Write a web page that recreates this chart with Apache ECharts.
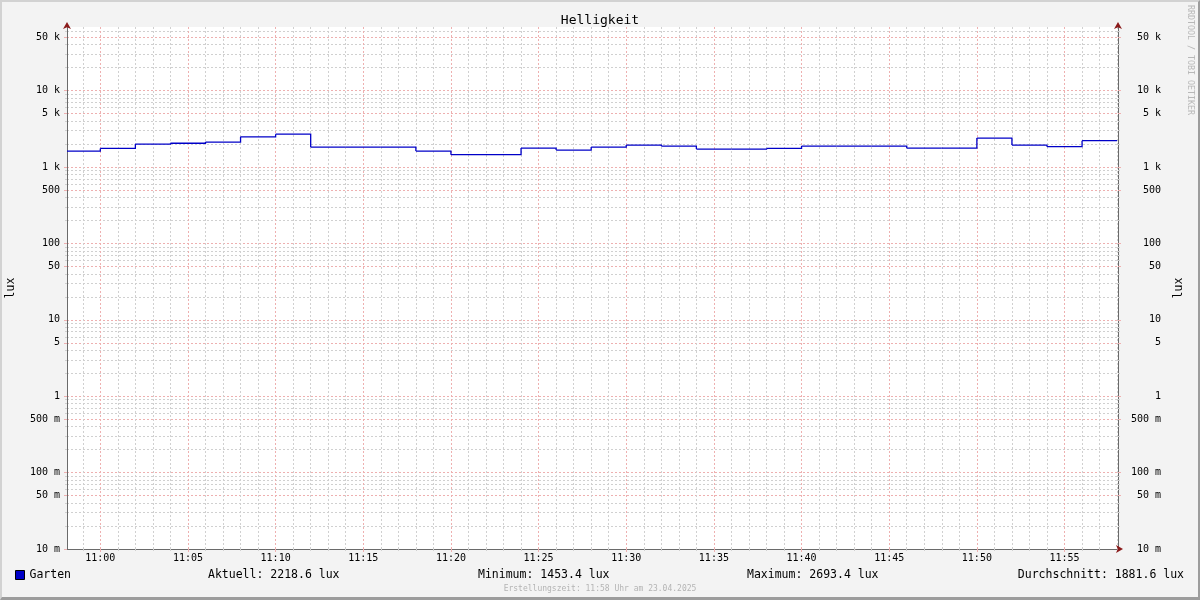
<!DOCTYPE html>
<html><head><meta charset="utf-8">
<script src="https://cdn.jsdelivr.net/npm/echarts@6/dist/echarts.min.js"></script>
<style>
html,body{margin:0;padding:0;background:#f3f3f3}
#wrap{position:relative;width:1200px;height:600px}
#chart{width:1200px;height:600px}
#frame{position:absolute;left:0;top:0;width:1200px;height:600px;box-sizing:border-box;border-top:2px solid #d2d2d2;border-left:2px solid #d2d2d2;border-right:2px solid #9c9c9c;border-bottom:3px solid #9c9c9c;pointer-events:none}
</style></head>
<body><div id="wrap"><div id="chart"></div><div id="frame"></div></div>
<script>
// ---- data ----
const chartTitle = 'Helligkeit';
const seriesName = 'Garten';
const unitName = 'lux';
const sampleTimes = ['10:58','11:00','11:02','11:04','11:06','11:08','11:10','11:12','11:14','11:16',
  '11:18','11:20','11:22','11:24','11:26','11:28','11:30','11:32','11:34','11:36',
  '11:38','11:40','11:42','11:44','11:46','11:48','11:50','11:52','11:54','11:56','11:58'];
const luxValues = [1620,1752,2000,2050,2124,2491,2693.4,1828,1828,1828,
  1620,1453.4,1453.4,1773,1670,1828,1940,1883,1720,1720,
  1752,1883,1883,1883,1773,1773,2396,1940,1850,2218.6,2218.6];
const xTickLabels = ['11:00','11:05','11:10','11:15','11:20','11:25','11:30','11:35','11:40','11:45','11:50','11:55'];
const yTickValues = [0.01,0.05,0.1,0.5,1,5,10,50,100,500,1000,5000,10000,50000];
const yTickLabels = ['10 m','50 m','100 m','500 m','1','5','10','50','100','500','1 k','5 k','10 k','50 k'];
const statLabels = ['Aktuell:','Minimum:','Maximum:','Durchschnitt:'];
const statValues = ['2218.6','1453.4','2693.4','1881.6'];
const footerText = 'Erstellungszeit: 11:58 Uhr am 23.04.2025';
const watermark = 'RRDTOOL / TOBI OETIKER';

// ---- helpers ----
const BASE = 11*60;
function toMin(s){const p=s.split(':');return (+p[0])*60+(+p[1])-BASE;}
function fmtMin(m){const t=BASE+Math.round(m);const h=Math.floor(t/60),mm=t%60;return String(h).padStart(2,'0')+':'+String(mm).padStart(2,'0');}
const xMin=-1.9, xMax=58.05;
const yMin=0.01, yMax=68200;
const xMajor = xTickLabels.map(toMin);
const xMinor = [];
for(let m=Math.ceil(xMin);m<=Math.floor(xMax);m++){ if(m%5!==0) xMinor.push(m); }
const yMinor = [];
for(let e=-2;e<=4;e++){ for(const k of [2,3,4,6,7,8,9]){ const v=Number((k*Math.pow(10,e)).toPrecision(6)); if(v<=yMax) yMinor.push(v);} }
function yLabel(v){const i=yTickValues.findIndex(t=>Math.abs(t-v)/t<1e-6);return i>=0?yTickLabels[i]:'';}

// step segments: [start, end, value, nextValue]
const stepData = [];
for(let i=0;i<sampleTimes.length-1;i++){
  stepData.push([toMin(sampleTimes[i]), toMin(sampleTimes[i+1]), luxValues[i], luxValues[i+1]]);
}

const MONO='"DejaVu Sans Mono", monospace';
const GREY='#d0d0d0', RED='#eeb0b0', AXIS='#6a6a6a', ARROW='#8b1a1a', LINE='#0000c8';

const chart = echarts.init(document.getElementById('chart'), null, {renderer:'canvas'});
const gridLine = (c)=>({show:true,lineStyle:{color:c,width:1,type:[2,2]}});
const yBase = {type:'log',logBase:10,min:yMin,max:yMax,gridIndex:0};
const xBase = {type:'value',min:xMin,max:xMax,gridIndex:0};

chart.setOption({
  animation:false,
  backgroundColor:'#f3f3f3',
  title:{text:chartTitle,left:'center',top:9,textStyle:{fontFamily:MONO,fontSize:13,fontWeight:'normal',color:'#000'}},
  grid:{left:67,right:82,top:27,bottom:51,show:true,backgroundColor:'#ffffff',borderWidth:0,containLabel:false,outerBoundsMode:'none'},
  legend:{data:[seriesName],left:15,top:569,padding:0,icon:'rect',itemWidth:9,itemHeight:9,
    itemStyle:{color:LINE,borderColor:'#000',borderWidth:1},
    textStyle:{fontFamily:MONO,fontSize:11.5,color:'#000'}},
  xAxis:[
    Object.assign({},xBase,{position:'bottom',
      axisLine:{show:true,onZero:false,lineStyle:{color:AXIS,width:1}},
      axisTick:{show:true,customValues:xMinor,length:2,lineStyle:{color:GREY}},
      axisLabel:{show:false},
      splitLine:gridLine(GREY)}),
    Object.assign({},xBase,{position:'bottom',
      axisLine:{show:true,onZero:false,symbol:['none','arrow'],symbolSize:[6,7],symbolOffset:[0,5],lineStyle:{color:ARROW,width:0}},
      axisTick:{show:true,customValues:xMajor,length:3,lineStyle:{color:RED}},
      axisLabel:{show:true,customValues:xMajor,formatter:fmtMin,margin:4,fontFamily:MONO,fontSize:10,color:'#000'},
      splitLine:gridLine(RED)})
  ],
  yAxis:[
    Object.assign({},yBase,{position:'left',
      axisLine:{show:true,onZero:false,lineStyle:{color:AXIS,width:1}},
      axisTick:{show:true,customValues:yMinor,length:2,lineStyle:{color:GREY}},
      axisLabel:{show:false},
      splitLine:gridLine(GREY)}),
    Object.assign({},yBase,{position:'left',
      name:unitName,nameLocation:'middle',nameGap:50,nameRotate:90,
      nameTextStyle:{fontFamily:MONO,fontSize:11.5,color:'#000'},
      axisLine:{show:true,onZero:false,symbol:['none','arrow'],symbolSize:[6,7],symbolOffset:[0,5],lineStyle:{color:ARROW,width:0}},
      axisTick:{show:true,customValues:yTickValues,length:3,lineStyle:{color:RED}},
      axisLabel:{show:true,customValues:yTickValues,formatter:yLabel,margin:7,fontFamily:MONO,fontSize:10,color:'#000'},
      splitLine:gridLine(RED)}),
    Object.assign({},yBase,{position:'right',
      axisLine:{show:true,onZero:false,lineStyle:{color:AXIS,width:1}},
      axisTick:{show:true,customValues:yMinor,length:2,lineStyle:{color:GREY}},
      axisLabel:{show:false},
      splitLine:{show:false}}),
    Object.assign({},yBase,{position:'right',
      name:unitName,nameLocation:'middle',nameGap:55,nameRotate:90,
      nameTextStyle:{fontFamily:MONO,fontSize:11.5,color:'#000'},
      axisLine:{show:true,onZero:false,symbol:['none','arrow'],symbolSize:[6,7],symbolOffset:[0,5],lineStyle:{color:ARROW,width:0}},
      axisTick:{show:true,customValues:yTickValues,length:3,lineStyle:{color:RED}},
      axisLabel:{show:true,customValues:yTickValues,formatter:yLabel,margin:43,align:'right',fontFamily:MONO,fontSize:10,color:'#000'},
      splitLine:{show:false}})
  ],
  series:[{
    name:seriesName,type:'custom',xAxisIndex:0,yAxisIndex:0,clip:true,
    color:LINE,
    encode:{x:[0,1],y:[2,3]},
    data:stepData,
    renderItem:function(params,api){
      const t0=api.value(0), t1=api.value(1), v0=api.value(2), v1=api.value(3);
      const p0=api.coord([t0,v0]), p1=api.coord([t1,v0]), p2=api.coord([t1,v1]);
      return {type:'polyline',shape:{points:[p0,p1,p2]},style:{stroke:LINE,lineWidth:1.3,fill:null}};
    }
  }],
  graphic:[
    {type:'text',left:208,top:569,style:{text:statLabels[0]+' '+statValues[0]+' '+unitName,font:'11.5px '+MONO,fill:'#000'}},
    {type:'text',left:478,top:569,style:{text:statLabels[1]+' '+statValues[1]+' '+unitName,font:'11.5px '+MONO,fill:'#000'}},
    {type:'text',left:747,top:569,style:{text:statLabels[2]+' '+statValues[2]+' '+unitName,font:'11.5px '+MONO,fill:'#000'}},
    {type:'text',right:16,top:569,style:{text:statLabels[3]+' '+statValues[3]+' '+unitName,font:'11.5px '+MONO,fill:'#000'}},
    {type:'text',left:'center',top:585,style:{text:footerText,font:'8px '+MONO,fill:'#b4b4b4'}},
    {type:'text',x:1190,y:5,rotation:-Math.PI/2,style:{text:watermark,font:'8.3px '+MONO,fill:'#b8b8b8',textAlign:'left',textVerticalAlign:'middle'}}
  ]
});
</script></body></html>
